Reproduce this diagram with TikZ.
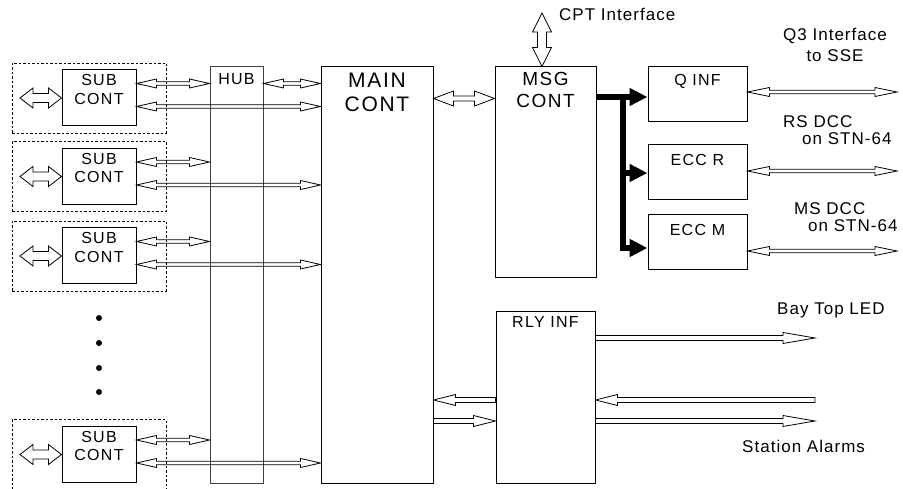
\documentclass[tikz,border=0pt]{standalone}
\usepackage{fontspec}
\setmainfont{Liberation Sans}[LetterSpace=6]
\newfontfamily\boxfont{Liberation Sans}[LetterSpace=8]
\usepackage{tikz}
\usetikzlibrary{arrows.meta,calc,positioning}

\tikzset{
  blk/.style={draw, line width=1pt, inner sep=0pt},
  txt/.style={inner sep=0pt, align=center, font={\boxfont\fontsize{16}{18.6}\selectfont}},
  lbl/.style={inner sep=0pt, align=left, font={\fontsize{17}{20}\selectfont}},
  grp/.style={draw, line width=0.9pt, dash pattern=on 2.5pt off 2pt, minimum width=154pt, minimum height=70pt},
  bus/.style={line width=6pt, -{Triangle[length=18pt,width=17pt]}},
  % outline arrow, heads at both ends: head length, head half width, shaft half width
  hollow/.style n args={3}{line width=0.8pt, to path={(\tikztostart)
      -- ($(\tikztostart)!#1!(\tikztotarget)!#2!90:(\tikztotarget)$)
      -- ($(\tikztostart)!#1!(\tikztotarget)!#3!90:(\tikztotarget)$)
      -- ($(\tikztotarget)!#1!(\tikztostart)!#3!-90:(\tikztostart)$)
      -- ($(\tikztotarget)!#1!(\tikztostart)!#2!-90:(\tikztostart)$)
      -- (\tikztotarget)
      -- ($(\tikztotarget)!#1!(\tikztostart)!#2!90:(\tikztostart)$)
      -- ($(\tikztotarget)!#1!(\tikztostart)!#3!90:(\tikztostart)$)
      -- ($(\tikztostart)!#1!(\tikztotarget)!#3!-90:(\tikztotarget)$)
      -- ($(\tikztostart)!#1!(\tikztotarget)!#2!-90:(\tikztotarget)$)
      -- cycle}},
  % outline arrow, head at the target only
  hollowone/.style n args={3}{line width=0.8pt, to path={($(\tikztostart)!#3!90:(\tikztotarget)$)
      -- ($(\tikztotarget)!#1!(\tikztostart)!#3!-90:(\tikztostart)$)
      -- ($(\tikztotarget)!#1!(\tikztostart)!#2!-90:(\tikztostart)$)
      -- (\tikztotarget)
      -- ($(\tikztotarget)!#1!(\tikztostart)!#2!90:(\tikztostart)$)
      -- ($(\tikztotarget)!#1!(\tikztostart)!#3!90:(\tikztostart)$)
      -- ($(\tikztostart)!#3!-90:(\tikztotarget)$)
      -- cycle}},
  dbl/.style={hollow={20pt}{4.5pt}{1.8pt}},
  fat/.style={hollow={13pt}{10pt}{4.5pt}},
  sgl/.style={hollowone={22pt}{5.5pt}{2.5pt}},
  sgllong/.style={hollowone={32pt}{5.5pt}{2.5pt}},
}

\begin{document}
\begin{tikzpicture}[x=1pt,y=-1pt]
  \useasboundingbox (0,0) rectangle (903,489);
  % Main blocks
  \node[blk, draw=black!75, minimum width=53pt, minimum height=416pt] (hub) at (236.5,275) {};
  \node[txt, below=7pt of hub.north] (hubt) {HUB};
  \node[blk, minimum width=112pt, minimum height=416pt] (main) at (377,275) {};
  \node[txt, font={\boxfont\fontsize{21}{24}\selectfont}, below=6pt of main.north] (maint) {MAIN\\CONT};
  \node[blk, minimum width=101pt, minimum height=211pt] (msg) at (545.5,172.5) {};
  \node[txt, font={\boxfont\fontsize{19}{21.6}\selectfont}, below=6pt of msg.north] (msgt) {MSG\\CONT};
  \node[blk, minimum width=99pt, minimum height=171pt] (rly) at (545.5,397.5) {};
  \node[txt, below=5pt of rly.north] (rlyt) {RLY INF};
  \node[blk, minimum width=99pt, minimum height=55pt] (qinf) at (697.5,94.5) {};
  \node[txt, below=8pt of qinf.north] (qinft) {Q INF};
  \node[blk, minimum width=99pt, minimum height=55pt] (eccr) at (697.5,172.5) {};
  \node[txt, below=10pt of eccr.north] (eccrt) {ECC R};
  \node[blk, minimum width=99pt, minimum height=55pt] (eccm) at (697.5,242.5) {};
  \node[txt, below=10pt of eccm.north] (eccmt) {ECC M};

  % Sub controllers
  \foreach \i/\y in {1/98,2/176.5,3/256,4/454.5}{
    \node[grp] (g\i) at (89,\y) {};
    \node[blk, minimum width=74pt, minimum height=56pt] (s\i) at (99,\y) {};
    \node[txt, below=5pt of s\i.north] (st\i) {SUB\\CONT};
    \coordinate (in\i) at (20,\y);
    \coordinate (u\i) at ([yshift=-14pt]s\i.north east);
    \coordinate (l\i) at ([yshift=-37pt]s\i.north east);
    \draw[fat] (in\i) to (s\i.west);
    \draw[dbl] (u\i) to (hub.west |- u\i);
    \draw[dbl] (l\i) to (main.west |- l\i);
  }
  \foreach \y in {318,343,368,392}
    \fill (99,\y) circle (3pt);

  \draw[dbl] (hub.east |- u1) to (main.west |- u1);
  \draw[hollow={20pt}{7.5pt}{2.5pt}] ([yshift=-32pt]main.north east) to ([yshift=-32pt]msg.north west);

  % CPT interface
  \coordinate (cpt) at (542,13);
  \draw[hollow={19pt}{9.5pt}{4.5pt}] (msg.north -| cpt) to (cpt);
  \node[lbl, anchor=north west] (cptl) at (559,8) {CPT Interface};

  % Message bus
  \coordinate (j1) at (623,97);
  \coordinate (j2) at (623,173);
  \coordinate (j3) at (623,248);
  \draw[bus] (msg.east |- j1) -- (qinf.west |- j1);
  \draw[bus] (j1) |- (eccm.west |- j3);
  \draw[bus] (j2) -- (eccr.west |- j2);

  % Outside interfaces
  \coordinate (q3) at (897,92);
  \coordinate (rs) at (897,171);
  \coordinate (ms) at (897,251);
  \draw[hollow={22pt}{4.5pt}{1.8pt}] (qinf.east |- q3) to (q3);
  \draw[hollow={22pt}{4.5pt}{1.8pt}] (eccr.east |- rs) to (rs);
  \draw[hollow={22pt}{4.5pt}{1.8pt}] (eccm.east |- ms) to (ms);
  \node[lbl, align=center, anchor=north] (q3l) at (835,28) {Q3 Interface\\[1pt]to SSE};
  \node[lbl, anchor=north west] (rsl) at (783,115) {RS DCC\\[-3pt]\hspace*{19pt}on STN-64};
  \node[lbl, anchor=north west] (msl) at (794,202) {MS DCC\\[-3pt]\hspace*{14pt}on STN-64};

  % Relay interface
  \coordinate (led) at (815,338);
  \coordinate (alin) at (815,400);
  \coordinate (alout) at (815,421);
  \draw[sgllong] (rly.east |- led) to (led);
  \draw[sgl] (alin) to (rly.east |- alin);
  \draw[sgllong] (rly.east |- alout) to (alout);
  \draw[sgl] (rly.west |- alin) to (main.east |- alin);
  \draw[sgl] (main.east |- alout) to (rly.west |- alout);
  \node[lbl, anchor=north west] (ledl) at (777,303) {Bay Top LED};
  \node[lbl, anchor=north west] (alml) at (742,440) {Station Alarms};
\end{tikzpicture}
\end{document}
